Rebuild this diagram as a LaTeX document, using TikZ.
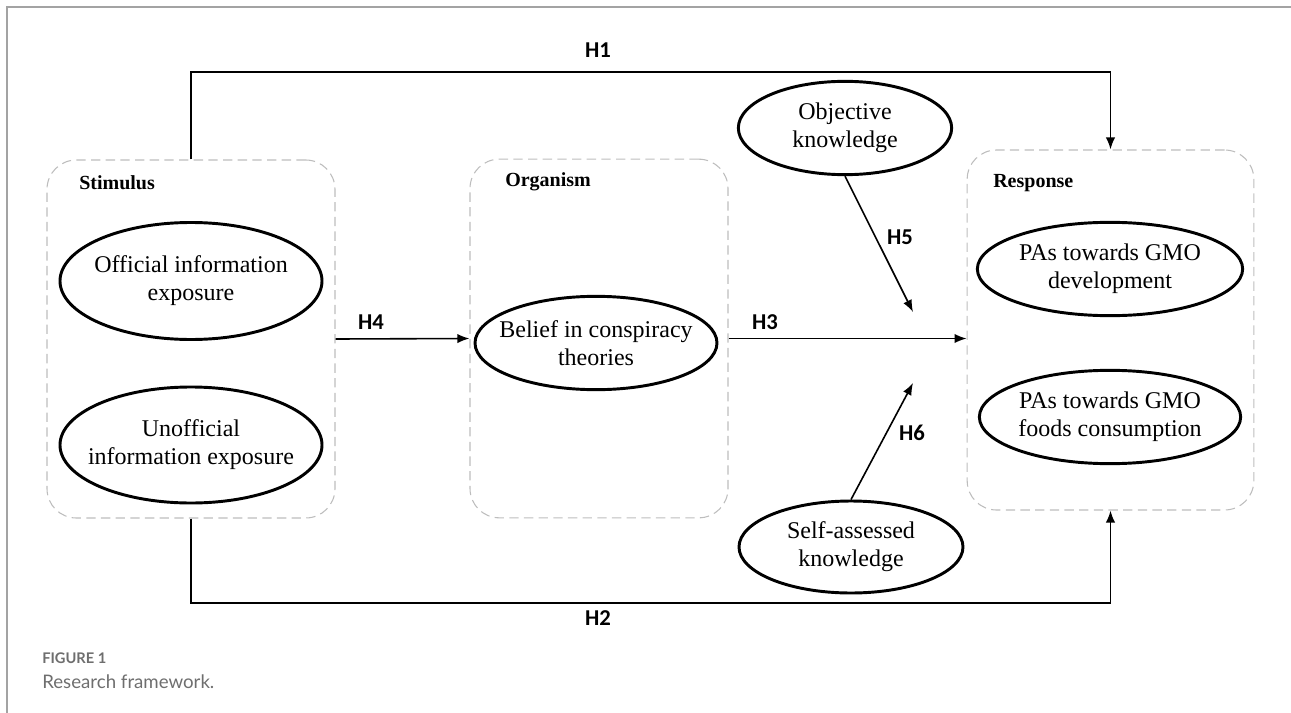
\documentclass[tikz,border=0pt]{standalone}
\usepackage{fontspec}
\setmainfont{Liberation Serif}
\newfontfamily\hypfont{Carlito}
\newfontfamily\capfont{Lato}
\usetikzlibrary{arrows.meta}
\usetikzlibrary{positioning}
\usetikzlibrary{shapes.geometric}

\definecolor{boxgray}{HTML}{BDBDBD}
\definecolor{framegray}{HTML}{A3A3A3}
\definecolor{capgray}{HTML}{6E6E6E}

\tikzset{
  groupbox/.style={draw=boxgray, dash pattern=on 7pt off 4pt, rounded corners=22pt, line width=0.8pt},
  construct/.style={ellipse, draw, line width=2.2pt, inner xsep=-30pt, inner ysep=0pt, align=center,
    font=\fontsize{18}{21}\selectfont},
  grouptitle/.style={anchor=west, inner sep=0pt, font=\fontsize{15}{18}\selectfont\bfseries},
  hyp/.style={inner sep=0pt, font=\hypfont\fontsize{17}{20}\selectfont\bfseries},
  link/.style={-{Latex[length=9pt,width=7pt]}, line width=1.2pt},
}

\begin{document}
\begin{tikzpicture}[x=0.75pt, y=-0.75pt]
\useasboundingbox (0,0) rectangle (1291,713);
\draw[framegray, line width=1pt] (7,713) -- (7,7) -- (1291,7);

% S-O-R groups
\node[groupbox, minimum width=216pt, minimum height=268.5pt] (stim) at (191,339) {};
\node[groupbox, minimum width=193.5pt, minimum height=269pt] (org) at (599,338.5) {};
\node[groupbox, minimum width=215pt, minimum height=270pt] (resp) at (1110.5,330) {};
\node[grouptitle] (stimtitle) at (79,183) {Stimulus};
\node[grouptitle] (orgtitle) at (505,182) {Organism};
\node[grouptitle] (resptitle) at (993,183) {Response};

% constructs
\node[construct, minimum width=196.5pt, minimum height=87.75pt] (official) at (191,281) {Official information\\exposure};
\node[construct, minimum width=196.5pt, minimum height=87pt] (unofficial) at (191,445) {Unofficial\\information exposure};
\node[construct, minimum width=181.5pt, minimum height=70pt] (belief) at (596,343) {Belief in conspiracy\\theories};
\node[construct, minimum width=160pt, minimum height=70pt] (objective) at (845,128) {Objective\\knowledge};
\node[construct, minimum width=168pt, minimum height=69pt] (selfass) at (851,547) {Self-assessed\\knowledge};
\node[construct, minimum width=199pt, minimum height=70pt] (devel) at (1110,269) {PAs towards GMO\\development};
\node[construct, minimum width=196pt, minimum height=70pt] (consum) at (1110,417) {PAs towards GMO\\foods consumption};

% hypotheses
\coordinate (h1turn) at (600,72);
\coordinate (h2turn) at (600,603);
\coordinate (h5end) at (913,312);
\coordinate (h6end) at (913,383);
\draw[link] (stim.north) |- (h1turn) -| (resp.north);
\draw[link] (stim.south) |- (h2turn) -| (resp.south);
\draw[link] (stim.east) -- (org.west);
\draw[link] (org.east) -- (org.east -| resp.west);
\draw[link] (objective.south) -- (h5end);
\draw[link] (selfass.north) -- (h6end);
\node[hyp] (h1) at (598,50) {H1};
\node[hyp] (h2) at (598,618) {H2};
\node[hyp] (h3) at (765,322) {H3};
\node[hyp] (h4) at (371,322) {H4};
\node[hyp] (h5) at (900,237) {H5};
\node[hyp] (h6) at (912,433) {H6};

% caption
\node[anchor=west, inner sep=0pt, text=capgray, font=\capfont\fontsize{11}{13}\selectfont\bfseries] (figno) at (42,658) {FIGURE 1};
\node[anchor=west, inner sep=0pt, text=capgray, font=\capfont\fontsize{14}{16}\selectfont] (figcap) at (42,682) {Research framework.};
\end{tikzpicture}
\end{document}
